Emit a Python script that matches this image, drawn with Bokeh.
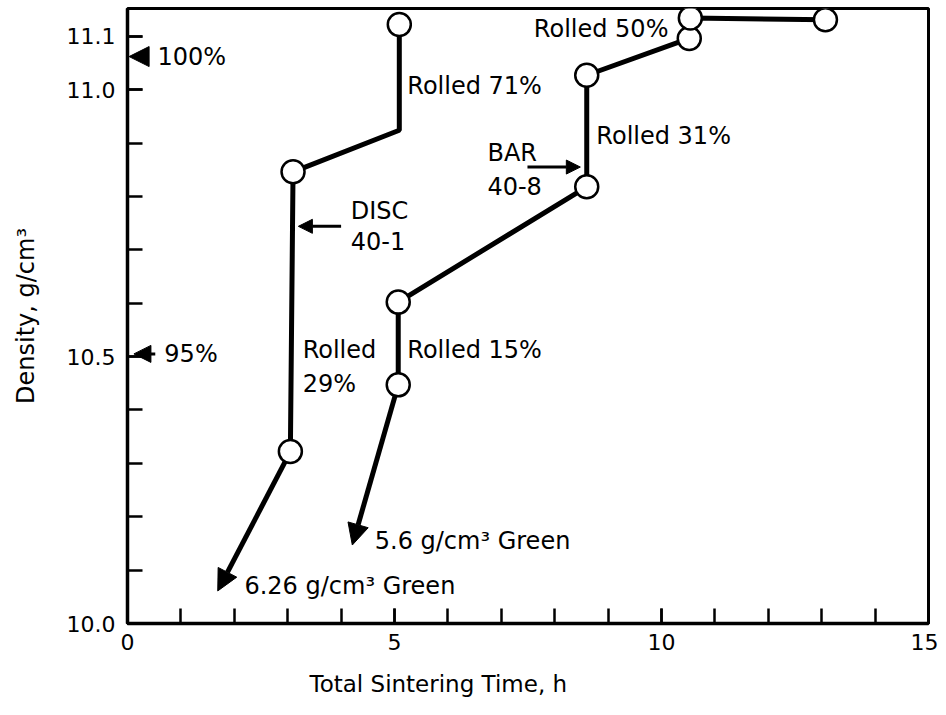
from bokeh.plotting import figure
from bokeh.models import FixedTicker, Arrow, NormalHead, Range1d, PrintfTickFormatter, Title
from bokeh.core.properties import value
from bokeh.embed import file_html
from bokeh.resources import INLINE

FONT = "DejaVu Sans"

# ---- data ----
# DISC 40-1 (green density 6.26 g/cm3)
disc_time = [3.05, 3.1, 5.09, 5.09]
disc_density = [10.322, 10.846, 10.924, 11.122]
disc_pt_time = [3.05, 3.1, 5.09]
disc_pt_density = [10.322, 10.846, 11.122]
disc_green_time = 1.69
disc_green_density = 10.061

# BAR 40-8 (green density 5.6 g/cm3)
bar_time = [5.07, 5.07, 8.6, 8.6, 10.52, 10.54, 13.07]
bar_density = [10.447, 10.602, 10.818, 11.027, 11.096, 11.134, 11.131]
bar_green_time = 4.21
bar_green_density = 10.147

# theoretical density marks
theo_labels = ["100%", "95%"]
theo_density = [11.062, 10.505]

x_ticks = [0, 5, 10, 15]
x_minor = [0, 1, 2, 3, 4, 5, 6, 7, 8, 9, 10, 11, 12, 13, 14, 15]
y_ticks = [10.0, 10.5, 11.0, 11.1]
y_minor = [10.0, 10.1, 10.2, 10.3, 10.4, 10.5, 10.6, 10.7, 10.8, 10.9, 11.0, 11.1]

note_text = ["Rolled 71%", "Rolled 31%", "BAR", "40-8", "DISC", "40-1",
             "Rolled", "29%", "Rolled 15%", "5.6 g/cm³ Green", "6.26 g/cm³ Green"]
note_x = [5.24, 8.78, 6.74, 6.74, 4.18, 4.18, 3.28, 3.28, 5.24, 4.63, 2.19]
note_y = [11.006, 10.913, 10.881, 10.82, 10.773, 10.717, 10.512, 10.449, 10.512, 10.155, 10.071]

p = figure(width=938, height=712,
           x_range=Range1d(0, 15), y_range=Range1d(10.0, 11.152),
           output_backend="svg", toolbar_location=None,
           min_border_left=127, min_border_right=10,
           min_border_top=8, min_border_bottom=86)
p.grid.visible = False
p.outline_line_color = "black"
p.outline_line_width = 3
p.background_fill_color = "white"
p.border_fill_color = "white"

for ax in (p.xaxis[0], p.yaxis[0]):
    ax.axis_line_width = 3.5
    ax.major_tick_in = 15
    ax.major_tick_out = 0
    ax.minor_tick_in = 15
    ax.minor_tick_out = 0
    ax.major_tick_line_width = 2.5
    ax.minor_tick_line_width = 2.5
    ax.major_label_text_font = FONT
    ax.major_label_text_font_size = "22px"
    ax.major_label_text_color = "black"
    ax.axis_label_text_font = FONT
    ax.axis_label_text_font_size = "24px"
    ax.axis_label_text_font_style = "normal"
    ax.axis_label_text_color = "black"

p.xaxis.ticker = FixedTicker(ticks=x_ticks, minor_ticks=x_minor)
p.xaxis.formatter = PrintfTickFormatter(format="%d")
p.xaxis.major_label_standoff = 10

p.yaxis.ticker = FixedTicker(ticks=y_ticks, minor_ticks=y_minor)
p.yaxis.formatter = PrintfTickFormatter(format="%.1f")
p.yaxis.major_label_standoff = 12
p.yaxis.axis_label = "Density, g/cm³"
p.yaxis.axis_label_standoff = 24

# x axis title, set a little left of centre as in the original
p.add_layout(Title(text="Total Sintering Time, h", align="left", offset=182,
                   text_font=FONT, text_font_size="23px", text_font_style="normal",
                   text_color="black", standoff=32), "below")

# extrapolation arrows to green density
for xs, ys, xe, ye in [(disc_time[0], disc_density[0], disc_green_time, disc_green_density),
                       (bar_time[0], bar_density[0], bar_green_time, bar_green_density)]:
    p.add_layout(Arrow(end=NormalHead(size=21, fill_color="black", line_color="black", line_width=1),
                       x_start=xs, y_start=ys, x_end=xe, y_end=ye,
                       line_width=5, line_color="black", level="underlay"))

p.line(disc_time, disc_density, line_width=5, line_color="black")
p.line(bar_time, bar_density, line_width=5, line_color="black")
p.scatter(disc_pt_time, disc_pt_density, size=23, fill_color="white",
          line_color="black", line_width=2.5)
p.scatter(bar_time, bar_density, size=23, fill_color="white",
          line_color="black", line_width=2.5)

# pointer arrows for the specimen names
p.add_layout(Arrow(end=NormalHead(size=14, fill_color="black", line_color="black", line_width=1),
                   x_start=4.0, y_start=10.744, x_end=3.2, y_end=10.744,
                   line_width=3, line_color="black"))
p.add_layout(Arrow(end=NormalHead(size=14, fill_color="black", line_color="black", line_width=1),
                   x_start=7.49, y_start=10.855, x_end=8.48, y_end=10.855,
                   line_width=3, line_color="black"))

# theoretical density markers at the axis
p.add_layout(Arrow(end=NormalHead(size=20, fill_color="black", line_color="black", line_width=1),
                   x_start=0.39, y_start=theo_density[0], x_end=0.03, y_end=theo_density[0],
                   line_width=1, line_color="black"))
p.add_layout(Arrow(end=NormalHead(size=17, fill_color="black", line_color="black", line_width=1),
                   x_start=0.52, y_start=theo_density[1], x_end=0.12, y_end=theo_density[1],
                   line_width=3, line_color="black"))
p.text(x=[0.56, 0.69], y=theo_density, text=theo_labels,
       text_font=value(FONT), text_font_size="24px", text_color="black",
       text_align="left", text_baseline="middle")

p.text(x=note_x, y=note_y, text=note_text,
       text_font=value(FONT), text_font_size="24px", text_color="black",
       text_align="left", text_baseline="middle")
p.text(x=[10.13], y=[11.114], text=["Rolled 50%"],
       text_font=value(FONT), text_font_size="24px", text_color="black",
       text_align="right", text_baseline="middle")

open("out.html", "w").write(file_html(p, INLINE))
